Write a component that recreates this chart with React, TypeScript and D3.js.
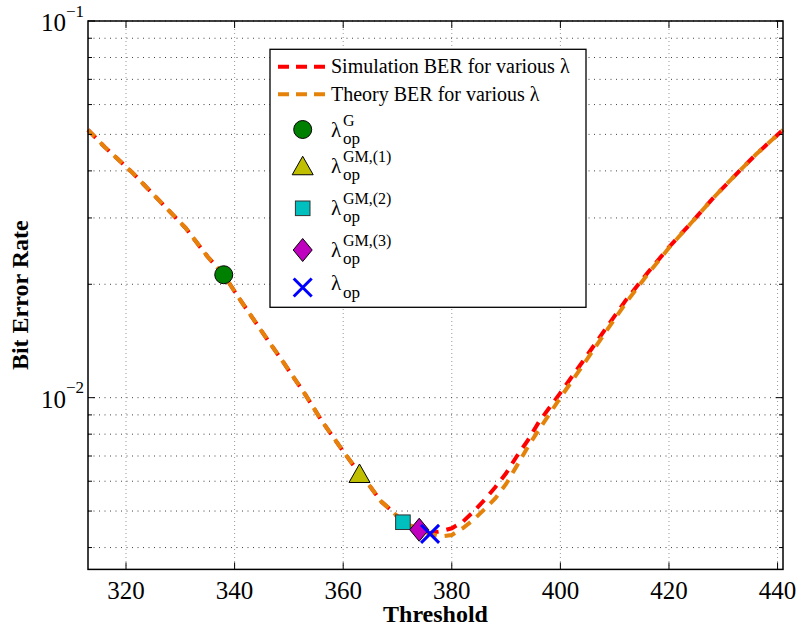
import React from "react";
import * as d3 from "d3";

const thresholds = [313, 316, 321, 326, 331, 335, 338, 341, 345, 349, 353, 356, 360, 363, 365, 367, 369, 371, 374, 376, 378, 380, 382, 384, 386, 388, 390, 392, 394, 396, 400, 404, 408, 412, 416, 420, 424, 428, 432, 436, 441];
const simBER = [0.0514, 0.0464, 0.0398, 0.0335, 0.0282, 0.0237, 0.0212, 0.0182, 0.015, 0.0124, 0.0102, 0.0087, 0.0072, 0.0063, 0.0058, 0.0053, 0.005, 0.00467, 0.00446, 0.00437, 0.00442, 0.0045, 0.00468, 0.00498, 0.00535, 0.00578, 0.0063, 0.007, 0.0077, 0.0086, 0.0103, 0.0124, 0.015, 0.0181, 0.0214, 0.0251, 0.029, 0.0337, 0.0387, 0.0442, 0.0514];
const theoryBER = [0.0514, 0.0464, 0.0398, 0.0335, 0.0282, 0.0237, 0.0212, 0.0182, 0.015, 0.0124, 0.0102, 0.0087, 0.0072, 0.0063, 0.0058, 0.0053, 0.005, 0.00467, 0.00446, 0.00435, 0.00428, 0.00432, 0.0045, 0.00474, 0.00505, 0.0054, 0.0059, 0.0066, 0.0074, 0.0082, 0.01, 0.0121, 0.0147, 0.0178, 0.0212, 0.025, 0.029, 0.0337, 0.0387, 0.0442, 0.0514];

const markerNames = ["G", "GM,(1)", "GM,(2)", "GM,(3)", "op"];
const markerX = [338, 363, 371, 374, 376];
const markerY = [0.0212, 0.0063, 0.00467, 0.00446, 0.00435];

const xTicks = [320, 340, 360, 380, 400, 420, 440];
const yMajor = [0.01, 0.1];
const yMinor = [0.004, 0.005, 0.006, 0.007, 0.008, 0.009, 0.02, 0.03, 0.04, 0.05, 0.06, 0.07, 0.08, 0.09];
const yTickExp = ["−2", "−1"];

const legendLines = ["Simulation BER for various λ", "Theory BER for various λ"];

const RED = "#ff0000";
const ORANGE = "#e5820a";
const FONT = "'Liberation Serif', 'Times New Roman', Times, serif";

function Marker({ kind, cx, cy }: { kind: number; cx: number; cy: number }) {
  if (kind === 0) return <circle cx={cx} cy={cy} r={9} fill="#008000" stroke="#000" strokeWidth={1} />;
  if (kind === 1) {
    const w = 21, h = 18.5;
    return <path d={`M${cx},${cy - h / 2}L${cx + w / 2},${cy + h / 2}L${cx - w / 2},${cy + h / 2}Z`} fill="#bfbf00" stroke="#000" strokeWidth={1} />;
  }
  if (kind === 2) return <rect x={cx - 7.3} y={cy - 7.3} width={14.6} height={14.6} fill="#00bfbf" stroke="#333" strokeWidth={1} />;
  if (kind === 3) {
    const w = 9.5, h = 11.5;
    return <path d={`M${cx},${cy - h}L${cx + w},${cy}L${cx},${cy + h}L${cx - w},${cy}Z`} fill="#bf00bf" stroke="#000" strokeWidth={1} />;
  }
  const s = 9;
  return <path d={`M${cx - s},${cy - s}L${cx + s},${cy + s}M${cx - s},${cy + s}L${cx + s},${cy - s}`} stroke="#0000ff" strokeWidth={3} fill="none" />;
}

export default function App() {
  const W = 799, H = 627;
  const L = 88, R = 783, T = 21, B = 569.4;
  const x = d3.scaleLinear().domain([313, 441]).range([L, R]);
  const y = d3.scaleLog().domain([0.0035, 0.1]).range([B, T]);

  const line = d3.line<number>().x((_, i) => x(thresholds[i])).y((d) => y(d));

  const legendRows = [
    { my: 129.5, by: 136.7, subDy: 7 },
    { my: 165.5, by: 173.3, subDy: 7 },
    { my: 208.3, by: 215, subDy: 7 },
    { my: 250, by: 256.7, subDy: 7 },
    { my: 287.5, by: 290, subDy: 8 },
  ];

  return (
    <svg width={W} height={H} style={{ position: "absolute", left: 0, top: 0, background: "#fff", fontFamily: FONT }}>
      <rect x={0} y={0} width={W} height={H} fill="#fff" />
      {xTicks.map((t) => (
        <line key={"gx" + t} x1={x(t)} x2={x(t)} y1={T} y2={B} stroke="#999" strokeWidth={1} strokeDasharray="1,3" />
      ))}
      {[...yMinor, ...yMajor].map((v) => (
        <line key={"gy" + v} x1={L} x2={R} y1={y(v)} y2={y(v)} stroke="#444" strokeWidth={1} strokeDasharray="1,4.5" />
      ))}
      <path d={line(simBER) || ""} fill="none" stroke={RED} strokeWidth={4} strokeDasharray="11,8" />
      <path d={line(theoryBER) || ""} fill="none" stroke={ORANGE} strokeWidth={4} strokeDasharray="11,8" strokeDashoffset={1.5} />
      {markerX.map((mx, i) => (
        <Marker key={"m" + i} kind={i} cx={x(mx)} cy={y(markerY[i])} />
      ))}
      <rect x={L} y={T} width={R - L} height={B - T} fill="none" stroke="#000" strokeWidth={1.5} />
      {xTicks.map((t) => (
        <g key={"tx" + t}>
          <line x1={x(t)} x2={x(t)} y1={B} y2={B - 7} stroke="#000" strokeWidth={1} />
          <line x1={x(t)} x2={x(t)} y1={T} y2={T + 7} stroke="#000" strokeWidth={1} />
          <text x={x(t)} y={598.5} textAnchor="middle" fontSize={25}>{t}</text>
        </g>
      ))}
      {yMinor.map((v) => (
        <g key={"tmy" + v}>
          <line x1={L} x2={L + 4} y1={y(v)} y2={y(v)} stroke="#000" strokeWidth={1} />
          <line x1={R} x2={R - 4} y1={y(v)} y2={y(v)} stroke="#000" strokeWidth={1} />
        </g>
      ))}
      {yMajor.map((v, i) => (
        <g key={"tMy" + v}>
          <line x1={L} x2={L + 7} y1={y(v)} y2={y(v)} stroke="#000" strokeWidth={1} />
          <line x1={R} x2={R - 7} y1={y(v)} y2={y(v)} stroke="#000" strokeWidth={1} />
          <text x={41} y={y(v) + 10} fontSize={25}>
            10
            <tspan fontSize={17} dy={-14.5}>{yTickExp[i]}</tspan>
          </text>
        </g>
      ))}
      <text x={(L + R) / 2} y={622} textAnchor="middle" fontSize={24} fontWeight="bold">Threshold</text>
      <text transform={`translate(28,${(T + B) / 2}) rotate(-90)`} textAnchor="middle" fontSize={24} fontWeight="bold">Bit Error Rate</text>
      <rect x={270} y={49.3} width={316} height={258} fill="#fff" stroke="#000" strokeWidth={1.3} />
      {legendLines.map((s, i) => (
        <g key={"ll" + i}>
          <line x1={278} x2={327} y1={66.7 + i * 27.6} y2={66.7 + i * 27.6} stroke={i === 0 ? RED : ORANGE} strokeWidth={4} strokeDasharray="11,7" />
          <text x={331} y={73.3 + i * 27.6} fontSize={20}>{s}</text>
        </g>
      ))}
      {legendRows.map((r, i) => (
        <g key={"lr" + i}>
          <Marker kind={i} cx={302.7} cy={r.my} />
          <text x={331} y={r.by} fontSize={21}>λ</text>
          {i < 4 && <text x={343} y={r.by - 11} fontSize={16}>{markerNames[i]}</text>}
          <text x={343} y={r.by + r.subDy} fontSize={17}>op</text>
        </g>
      ))}
    </svg>
  );
}
